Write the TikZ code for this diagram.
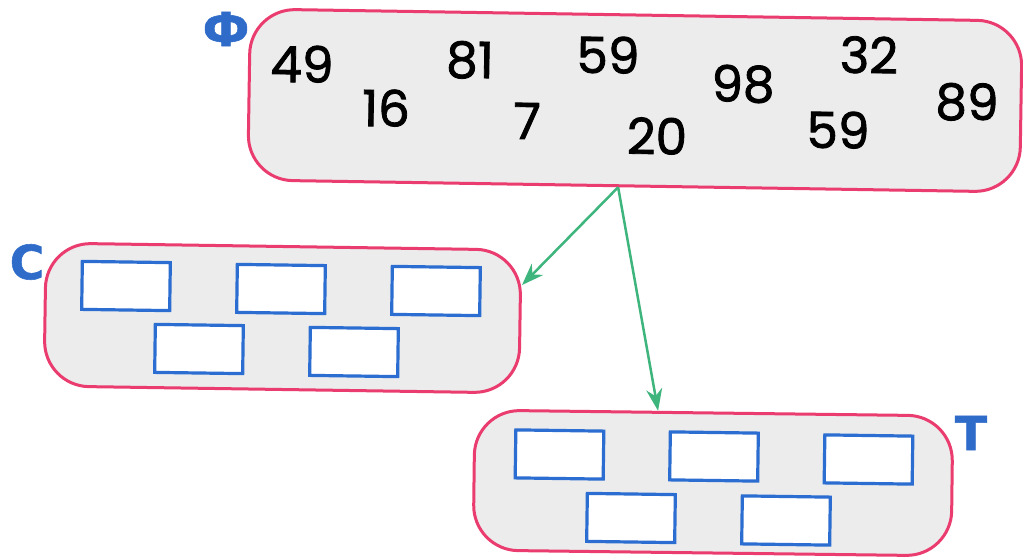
\documentclass[tikz,border=0pt]{standalone}
\usepackage{fontspec}
\newfontfamily\numfont[FakeBold=1.6]{Poppins}
\newfontfamily\labfont[FakeBold=1.2]{DejaVu Sans}
\usetikzlibrary{arrows.meta,calc}
\definecolor{boxfill}{HTML}{ECECEC}
\definecolor{pinkline}{HTML}{EA3C6E}
\definecolor{slotblue}{HTML}{2B6DD0}
\definecolor{labblue}{HTML}{2F6CC9}
\definecolor{linkgreen}{HTML}{3FB57E}
\begin{document}
\begin{tikzpicture}[x=1bp,y=-1bp,
  group/.style={rectangle, draw=pinkline, fill=boxfill, line width=3bp, rounded corners=45bp, inner sep=0pt},
  slot/.style={rectangle, draw=slotblue, fill=white, line width=3.2bp, minimum width=88bp, minimum height=48bp, inner sep=0pt, rotate=-0.8},
  num/.style={font=\numfont\fontsize{50bp}{50bp}\selectfont, inner sep=0pt, text=black, rotate=-0.9},
  lab/.style={font=\labfont\bfseries\fontsize{47bp}{47bp}\selectfont, text=labblue, inner sep=0pt},
  link/.style={draw=linkgreen, line width=2.5bp, -{Stealth[length=22bp,width=16bp]}}]
\useasboundingbox[fill=white] (0,0) rectangle (1023,559);
% group boxes
\node[group, minimum width=772bp, minimum height=171bp, rotate=-0.9] (F) at (635,100.5) {};
\node[group, minimum width=475bp, minimum height=143bp, rotate=-0.85] (C) at (282.5,318) {};
\node[group, minimum width=478bp, minimum height=140bp, rotate=-0.7] (T) at (713,483) {};
% labels
\node[lab] (lF) at (226,29) {Ф};
\node[lab] (lC) at (27,262) {С};
\node[lab] (lT) at (971,433) {Т};
% numbers
\node[num] (n1) at (302,64) {49};
\node[num] (n2) at (386,108) {16};
\node[num] (n3) at (470,60) {81};
\node[num] (n4) at (527,121) {7};
\node[num] (n5) at (608,55) {59};
\node[num] (n6) at (657,136) {20};
\node[num] (n7) at (743,84) {98};
\node[num] (n8) at (869,55) {32};
\node[num] (n9) at (838,130) {59};
\node[num] (n10) at (967,102) {89};
% slots in C
\node[slot] (c1) at (126,286) {};
\node[slot] (c2) at (281,289) {};
\node[slot] (c3) at (436,291) {};
\node[slot] (c4) at (199,349) {};
\node[slot] (c5) at (354,352) {};
% slots in T
\node[slot] (t1) at (559.5,454.5) {};
\node[slot] (t2) at (714,456.5) {};
\node[slot] (t3) at (868.5,459.5) {};
\node[slot] (t4) at (631,518) {};
\node[slot] (t5) at (786,520.5) {};
% connectors
\coordinate (fs) at ($(F.south west)!0.48!(F.south east)$);
\coordinate (ce) at ($(C.north east)!0.25!(C.south east)$);
\coordinate (tn) at ($(T.north west)!0.384!(T.north east)$);
\draw[link] (fs) -- (ce);
\draw[link] (fs) -- (tn);
\end{tikzpicture}
\end{document}
